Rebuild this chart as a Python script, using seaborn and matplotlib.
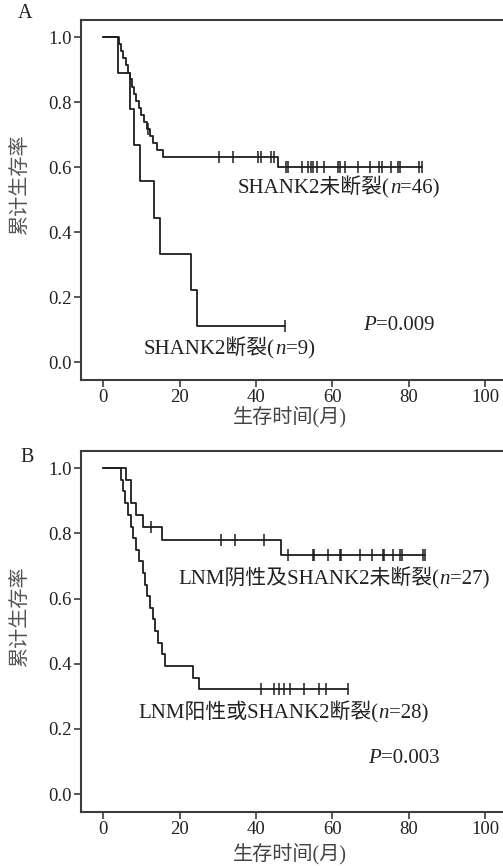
import numpy as np
import pandas as pd
import matplotlib
matplotlib.use("Agg")
import matplotlib.pyplot as plt
import seaborn as sns

sns.set_style("ticks")
plt.rcParams['font.family'] = ['Liberation Serif', 'Noto Sans CJK SC']

# -------------------------------
# Data (months, survival after each event)
# -------------------------------
a_hi_times = [4.1, 4.6, 5.2, 5.9, 6.5, 7.0, 7.6, 8.1, 8.7, 9.3, 10.0, 10.7,
              11.4, 12.2, 13.0, 14.2, 15.6, 45.7]
a_hi_surv = [0.978, 0.957, 0.935, 0.913, 0.891, 0.870, 0.848, 0.826, 0.804,
             0.783, 0.761, 0.739, 0.717, 0.696, 0.674, 0.652, 0.630, 0.601]
a_hi_cens = [11.7, 30.3, 34.0, 40.5, 41.2, 44.0, 44.8, 47.9, 48.5, 52.1, 53.6,
             54.3, 55.0, 56.0, 57.9, 61.4, 62.1, 63.2, 66.7, 69.9, 72.3, 73.0,
             75.4, 77.3, 77.8, 82.8, 83.5]

a_lo_times = [4.0, 7.0, 8.0, 9.7, 13.3, 14.9, 23.0, 24.6]
a_lo_surv = [0.889, 0.778, 0.667, 0.556, 0.444, 0.333, 0.222, 0.111]
a_lo_cens = [47.5]

b_hi_times = [6.0, 7.3, 8.6, 10.4, 15.3, 46.6]
b_hi_surv = [0.963, 0.894, 0.856, 0.819, 0.779, 0.733]
b_hi_cens = [12.6, 30.9, 34.4, 42.2, 48.3, 54.9, 55.3, 58.8, 62.1, 62.3, 67.3,
             70.3, 73.2, 73.6, 76.0, 77.8, 78.2, 83.7, 84.3]

b_lo_times = [4.6, 5.1, 5.7, 6.5, 7.2, 7.9, 8.7, 9.5, 10.3, 11.0, 11.6, 12.3,
              13.1, 13.7, 14.4, 15.3, 16.2, 23.5, 25.2]
b_lo_surv = [0.964, 0.929, 0.893, 0.857, 0.821, 0.786, 0.750, 0.714, 0.679,
             0.643, 0.607, 0.571, 0.536, 0.500, 0.464, 0.429, 0.393, 0.357,
             0.321]
b_lo_cens = [41.4, 44.8, 45.9, 47.3, 49.0, 52.7, 56.6, 58.4, 64.1]

x_ticks = [0, 20, 40, 60, 80, 100]
y_ticks = [0.0, 0.2, 0.4, 0.6, 0.8, 1.0]

LINE = "#1e1e1e"
AXC = "#3c3c3c"
TXT = "#222222"


def step_frame(times, surv, end):
    return pd.DataFrame({"t": [0.0] + times + [end],
                         "s": [1.0] + surv + [surv[-1]]})


def surv_at(times, surv, pts):
    levels = np.array([1.0] + surv)
    return levels[np.searchsorted(times, pts, side="right")]


def draw_curve(ax, times, surv, cens):
    df = step_frame(times, surv, max(cens))
    sns.lineplot(data=df, x="t", y="s", ax=ax, drawstyle="steps-post",
                 color=LINE, lw=1.3, estimator=None, sort=False)
    ax.plot(cens, surv_at(times, surv, cens), ls="none", marker="|",
            ms=8, mew=1.1, color=LINE)


def rich_label(ax, x, y, parts, size=15):
    # chain text pieces so that "n" / "P" can be italic
    prev = None
    for txt, style in parts:
        if prev is None:
            prev = ax.text(x, y, txt, fontsize=size, style=style,
                           color=TXT, ha="left", va="center")
        else:
            prev = ax.annotate(txt, xy=(1, 0), xycoords=prev, fontsize=size,
                               style=style, color=TXT, ha="left",
                               va="bottom")


def style_axes(ax, xlabel_y):
    ax.set_xlim(-5.8, 109.9)
    ax.set_ylim(-0.055, 1.053)
    ax.set_xticks(x_ticks)
    ax.set_yticks(y_ticks)
    ax.set_yticklabels([f"{v:.1f}" for v in y_ticks])
    ax.tick_params(direction="out", length=5, width=1.2, colors=AXC,
                   labelsize=13.5, labelcolor=TXT, pad=1.5)
    for sp in ax.spines.values():
        sp.set_visible(True)
        sp.set_color(AXC)
        sp.set_linewidth(1.5)
    ax.set_xlabel("生存时间(月)", fontsize=14.5, color="#444444")
    ax.set_ylabel("累计生存率", fontsize=14.5, color="#555555")
    ax.xaxis.set_label_coords(0.473, xlabel_y)
    ax.yaxis.set_label_coords(-0.115, 0.545)


fig = plt.figure(figsize=(5.03, 8.66), dpi=100)
ax_a = fig.add_axes([81 / 503, 1 - 380 / 866, 442 / 503, 360 / 866])
ax_b = fig.add_axes([81 / 503, 1 - 812 / 866, 442 / 503, 361 / 866])

# Panel A
draw_curve(ax_a, a_hi_times, a_hi_surv, a_hi_cens)
draw_curve(ax_a, a_lo_times, a_lo_surv, a_lo_cens)
style_axes(ax_a, -0.076)
rich_label(ax_a, 35.3, 0.538, [("SHANK2未断裂(", "normal"), ("n", "italic"),
                               ("=46)", "normal")])
rich_label(ax_a, 10.7, 0.043, [("SHANK2断裂(", "normal"), ("n", "italic"),
                               ("=9)", "normal")])
rich_label(ax_a, 68.1, 0.114, [("P", "italic"), ("=0.009", "normal")])

# Panel B
draw_curve(ax_b, b_hi_times, b_hi_surv, b_hi_cens)
draw_curve(ax_b, b_lo_times, b_lo_surv, b_lo_cens)
style_axes(ax_b, -0.088)
rich_label(ax_b, 19.6, 0.663, [("LNM阴性及SHANK2未断裂(", "normal"),
                               ("n", "italic"), ("=27)", "normal")])
rich_label(ax_b, 9.2, 0.252, [("LNM阳性或SHANK2断裂(", "normal"),
                              ("n", "italic"), ("=28)", "normal")])
rich_label(ax_b, 69.3, 0.108, [("P", "italic"), ("=0.003", "normal")])

fig.text(25 / 503, 1 - 14 / 866, "A", fontsize=14.5, color=TXT,
         ha="center", va="center")
fig.text(27 / 503, 1 - 457 / 866, "B", fontsize=14.5, color=TXT,
         ha="center", va="center")

fig.savefig("out.png", dpi=100)
